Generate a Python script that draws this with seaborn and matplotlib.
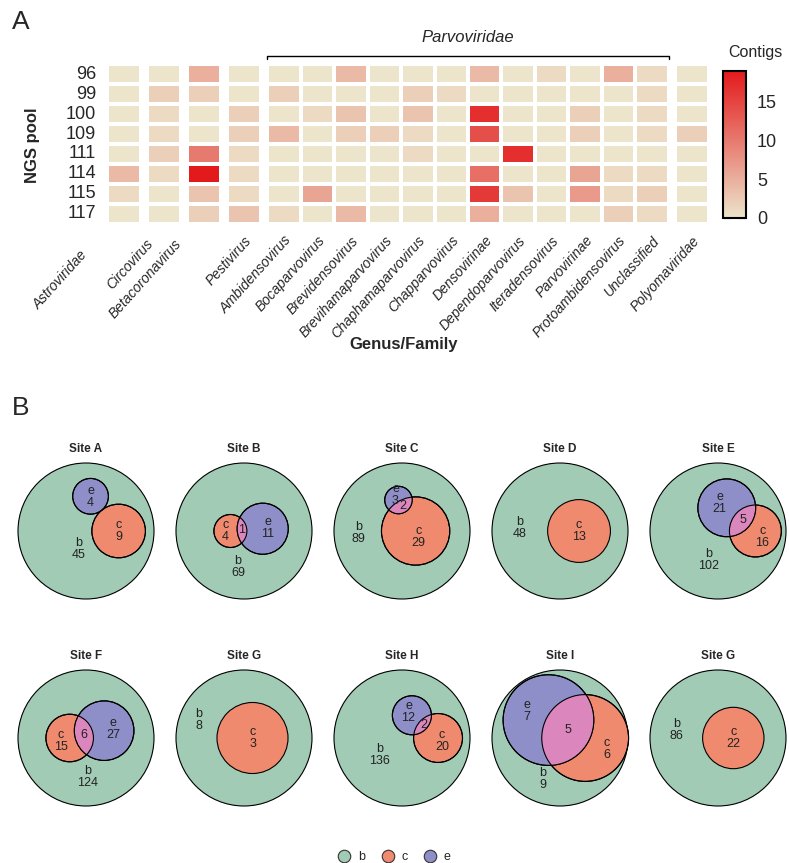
import numpy as np
import pandas as pd
import matplotlib
matplotlib.use("Agg")
import matplotlib.pyplot as plt
import seaborn as sns
from matplotlib.colors import LinearSegmentedColormap
from matplotlib.patches import Circle
from matplotlib.lines import Line2D
from matplotlib.transforms import ScaledTranslation

# ---- panel A data: contigs per NGS pool ----
pools = ["96", "99", "100", "109", "111", "114", "115", "117"]

astroviridae = [0, 0, 0, 0, 0, 4, 1, 0]
circovirus = [0, 2, 1, 1, 2, 1, 0, 0]
betacoronavirus = [5, 2, 0, 0, 10, 19, 3, 2]
pestivirus = [0, 0, 2, 2, 1, 1, 1, 3]
ambidensovirus = [0, 2, 0, 4, 0, 0, 0, 1]
bocaparvovirus = [0, 0, 1, 0, 0, 0, 6, 0]
brevidensovirus = [4, 0, 3, 2, 0, 0, 0, 4]
brevihamaparvovirus = [0, 0, 0, 2, 0, 0, 0, 0]
chaphamaparvovirus = [0, 2, 3, 1, 1, 0, 0, 0]
chapparvovirus = [0, 1, 0, 0, 0, 0, 0, 0]
densovirinae = [4, 0, 17, 14, 0, 11, 16, 5]
dependoparvovirus = [0, 0, 0, 0, 17, 0, 3, 0]
iteradensovirus = [1, 0, 0, 0, 0, 0, 0, 0]
parvovirinae = [0, 0, 2, 2, 0, 6, 7, 0]
protoambidensovirus = [5, 0, 0, 0, 0, 1, 1, 2]
unclassified = [1, 1, 1, 1, 0, 1, 2, 1]
polyomaviridae = [0, 0, 0, 2, 0, 0, 0, 0]

# ---- panel B data: shared taxa per site ----
sites = ["Site A", "Site B", "Site C", "Site D", "Site E",
         "Site F", "Site G", "Site H", "Site I", "Site G"]
b_only = [45, 69, 89, 48, 102, 124, 8, 136, 9, 86]
c_only = [9, 4, 29, 13, 16, 15, 3, 20, 6, 22]
e_only = [4, 11, 3, 0, 21, 27, 0, 12, 7, 0]
ce_both = [0, 1, 2, 0, 5, 6, 0, 2, 5, 0]

# layout of each diagram (fraction of outer radius / degrees)
c_shift = [0.48, -0.2, 0.2, 0.28, 0.55, -0.24, 0.125, 0.53, 0.37, 0.225]
e_angle = [129, 4, 119, 0, 141, 12, 0, 139, 154, 0]
b_label = [(-0.11, -0.27), (-0.09, -0.53), (-0.64, -0.03), (-0.59, 0.05),
           (-0.14, -0.43), (0.02, -0.57), (-0.67, 0.27), (-0.33, -0.25),
           (-0.25, -0.6), (-0.61, 0.12)]

# hand-placed tick labels in the original (pixel nudges)
label_nudge = {"Astroviridae": (-44, 14), "Circovirus": (-18, 3),
               "Betacoronavirus": (-30, 3)}

W, H = 789, 863
sns.set_theme(style="white")
plt.rcParams["font.family"] = ["Liberation Sans", "DejaVu Sans"]

fig = plt.figure(figsize=(W / 100, H / 100), dpi=100)


def box(x, y, w, h):
    return [x / W, 1 - (y + h) / H, w / W, h / H]


taxa = ["Astroviridae", "Circovirus", "Betacoronavirus", "Pestivirus",
        "Ambidensovirus", "Bocaparvovirus", "Brevidensovirus",
        "Brevihamaparvovirus", "Chaphamaparvovirus", "Chapparvovirus",
        "Densovirinae", "Dependoparvovirus", "Iteradensovirus",
        "Parvovirinae", "Protoambidensovirus", "Unclassified",
        "Polyomaviridae"]
df = pd.DataFrame(
    [astroviridae, circovirus, betacoronavirus, pestivirus, ambidensovirus,
     bocaparvovirus, brevidensovirus, brevihamaparvovirus,
     chaphamaparvovirus, chapparvovirus, densovirinae, dependoparvovirus,
     iteradensovirus, parvovirinae, protoambidensovirus, unclassified,
     polyomaviridae], index=taxa, columns=pools).T

groups = [taxa[0:1], taxa[1:2], taxa[2:3], taxa[3:4], taxa[4:16], taxa[16:17]]
group_x = [108, 148, 188, 228, 268, 676]
cw = 33.45
cmap = LinearSegmentedColormap.from_list("contigs", ["#ECE4CB", "#E31A1C"])

cax = fig.add_axes(box(723, 71, 23, 147))
heat_axes = []
for i, (cols, x0) in enumerate(zip(groups, group_x)):
    ax = fig.add_axes(box(x0 - 0.75, 64.25, len(cols) * cw, 159.5))
    sns.heatmap(df[cols], ax=ax, cmap=cmap, vmin=0, vmax=19,
                linewidths=1.5, linecolor="white",
                cbar=(i == 0), cbar_ax=cax if i == 0 else None,
                xticklabels=True, yticklabels=(i == 0))
    ax.set_xlabel("")
    ax.set_ylabel("")
    ax.set_xticklabels(cols, rotation=48, ha="right", rotation_mode="anchor",
                       fontstyle="italic", fontsize=10)
    ax.tick_params(length=0, pad=7)
    for lab in ax.get_xticklabels():
        if lab.get_text() in label_nudge:
            dx, dy = label_nudge[lab.get_text()]
            lab.set_transform(lab.get_transform() +
                              ScaledTranslation(dx / 100, -dy / 100, fig.dpi_scale_trans))
    if i == 0:
        ax.set_yticklabels(pools, rotation=0, fontsize=13)
        ax.tick_params(axis="y", pad=8)
    heat_axes.append(ax)

cb = heat_axes[0].collections[0].colorbar
cb.outline.set_linewidth(1.5)
cb.outline.set_edgecolor("black")
cb.set_ticks([0, 5, 10, 15])
cax.tick_params(direction="in", length=6, width=1.5, left=True, right=True,
                labelsize=13, pad=8, color="black")

# Parvoviridae bracket
pax = heat_axes[4]
tr = pax.get_xaxis_transform()
pax.plot([0, 0, 12, 12], [1.03, 1.05, 1.05, 1.03], color="black", lw=1,
         transform=tr, clip_on=False)
pax.text(6, 1.12, "Parvoviridae", transform=tr, ha="center", va="bottom",
         fontsize=12, fontstyle="italic")

fig.text(755 / W, 1 - 53 / H, "Contigs", ha="center", va="center", fontsize=11.5)
fig.text(33 / W, 1 - 145 / H, "NGS pool", rotation=90, ha="center",
         va="center", fontsize=12, fontweight="bold")
fig.text(404 / W, 1 - 344 / H, "Genus/Family", ha="center", va="center",
         fontsize=12, fontweight="bold")
fig.text(12 / W, 1 - 22 / H, "A", ha="left", va="center", fontsize=19)
fig.text(12 / W, 1 - 408 / H, "B", ha="left", va="center", fontsize=19)

# ---- panel B: proportional Venn diagrams ----
green, salmon, purple, pink = "#A1CBB5", "#EF8A6F", "#8E8FC8", "#DB87BE"
R = 68.0


def lens_area(d, r1, r2):
    if d >= r1 + r2:
        return 0.0
    if d <= abs(r1 - r2):
        return np.pi * min(r1, r2) ** 2
    a1 = r1 ** 2 * np.arccos((d * d + r1 * r1 - r2 * r2) / (2 * d * r1))
    a2 = r2 ** 2 * np.arccos((d * d + r2 * r2 - r1 * r1) / (2 * d * r2))
    k = 0.5 * np.sqrt((-d + r1 + r2) * (d + r1 - r2) * (d - r1 + r2) * (d + r1 + r2))
    return a1 + a2 - k


def center_distance(r1, r2, area):
    lo, hi = abs(r1 - r2), r1 + r2
    for _ in range(60):
        mid = (lo + hi) / 2
        if lens_area(mid, r1, r2) > area:
            lo = mid
        else:
            hi = mid
    return (lo + hi) / 2


gx, gy = np.meshgrid(np.arange(-R, R, 0.5), np.arange(-R, R, 0.5))


def pole(mask, circles):
    dist = np.full(gx.shape, np.inf)
    for (x0, y0, r) in circles:
        dist = np.minimum(dist, np.abs(np.hypot(gx - x0, gy - y0) - r))
    dist = np.where(mask, dist, -1)
    k = np.argmax(dist)
    return gx.flat[k], gy.flat[k]


col_x = [86, 244, 402, 560, 718]
row_y = [531, 738]
lab_kw = dict(ha="center", va="center", fontsize=9, linespacing=1.0, color="#222222")

for i, site in enumerate(sites):
    cx, cy = col_x[i % 5], row_y[i // 5]
    ax = fig.add_axes(box(cx - 75, cy - 75, 150, 150))
    ax.set_xlim(-75, 75)
    ax.set_ylim(-75, 75)
    ax.set_aspect("equal")
    ax.axis("off")
    ax.set_title(site, fontsize=8.5, fontweight="bold", pad=3)

    total = b_only[i] + c_only[i] + e_only[i] + ce_both[i]
    rc = R * np.sqrt((c_only[i] + ce_both[i]) / total)
    re = R * np.sqrt((e_only[i] + ce_both[i]) / total)
    c_xy = (c_shift[i] * R, 0.0)

    ax.add_patch(Circle((0, 0), R, facecolor=green, edgecolor="black", lw=0.8))
    c_patch = Circle(c_xy, rc, facecolor=salmon, edgecolor="black", lw=0.8)
    ax.add_patch(c_patch)
    circles = [(0, 0, R), (c_xy[0], c_xy[1], rc)]
    in_c = np.hypot(gx - c_xy[0], gy - c_xy[1]) < rc

    if re > 0:
        lens = np.pi * R ** 2 * ce_both[i] / total
        d = center_distance(rc, re, lens)
        ang = np.deg2rad(e_angle[i])
        e_xy = (c_xy[0] + d * np.cos(ang), c_xy[1] + d * np.sin(ang))
        ax.add_patch(Circle(e_xy, re, facecolor=purple, edgecolor="black", lw=0.8))
        overlap = Circle(e_xy, re, facecolor=pink, edgecolor="none")
        ax.add_patch(overlap)
        overlap.set_clip_path(c_patch)
        ax.add_patch(Circle(c_xy, rc, facecolor="none", edgecolor="black", lw=0.8))
        ax.add_patch(Circle(e_xy, re, facecolor="none", edgecolor="black", lw=0.8))
        circles.append((e_xy[0], e_xy[1], re))
        in_e = np.hypot(gx - e_xy[0], gy - e_xy[1]) < re
        ex, ey = pole(in_e & ~in_c, circles)
        ax.text(ex, ey, f"e\n{e_only[i]}", **lab_kw)
        if ce_both[i] > 0:
            ox, oy = pole(in_e & in_c, circles)
            ax.text(ox, oy, f"{ce_both[i]}", **lab_kw)
    else:
        in_e = np.zeros_like(in_c)

    px, py = pole(in_c & ~in_e, circles)
    ax.text(px, py, f"c\n{c_only[i]}", **lab_kw)
    bx, by = b_label[i]
    ax.text(bx * R, by * R, f"b\n{b_only[i]}", **lab_kw)

handles = [Line2D([], [], ls="", marker="o", markersize=9, markerfacecolor=col,
                  markeredgecolor="#333333", markeredgewidth=0.8, label=lab)
           for col, lab in zip([green, salmon, purple], ["b", "c", "e"])]
fig.legend(handles=handles, loc="center", bbox_to_anchor=(0.5, 1 - 857 / H),
           ncol=3, frameon=False, fontsize=9, handletextpad=0.6,
           handlelength=1.0, columnspacing=1.3)

fig.savefig("out.png", dpi=100)
